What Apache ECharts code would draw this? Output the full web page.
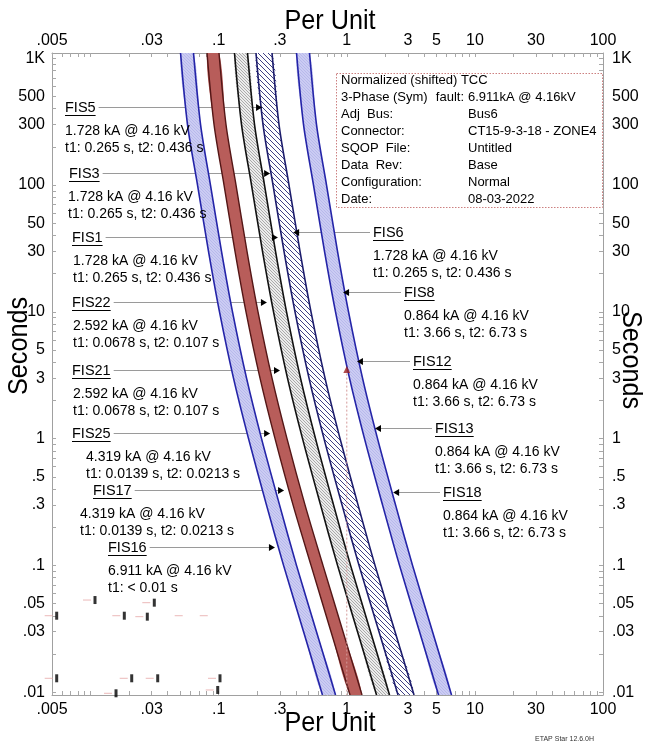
<!DOCTYPE html>
<html><head><meta charset="utf-8">
<script src="https://cdn.jsdelivr.net/npm/echarts@6/dist/echarts.min.js"></script>
<style>html,body{margin:0;padding:0;background:#fff}#c{width:646px;height:743px}</style>
</head><body><div id="c"></div>
<script>
// ---------------- DATA ----------------
const xTickLabels = [0.005, 0.03, 0.1, 0.3, 1, 3, 5, 10, 30, 100];
const yTickLabels = [1000, 500, 300, 100, 50, 30, 10, 5, 3, 1, 0.5, 0.3, 0.1, 0.05, 0.03, 0.01];

// curve sample times (s), and per-unit current of each band edge at those times
const curveTimes = [1100, 300, 100, 30, 10, 3, 1, 0.3, 0.1, 0.03, 0.0095];
const blueA_lo = [0.0504, 0.0571, 0.0684, 0.0833, 0.1015, 0.1305, 0.171, 0.236, 0.321, 0.460, 0.646];
const blueA_hi = [0.0636, 0.0722, 0.0863, 0.1052, 0.1282, 0.165, 0.216, 0.2985, 0.405, 0.580, 0.817];
const red_lo   = [0.0811, 0.0920, 0.1101, 0.1341, 0.1634, 0.2102, 0.2753, 0.3805, 0.526, 0.753, 1.06];
const red_hi   = [0.1006, 0.1141, 0.1366, 0.1664, 0.2028, 0.2609, 0.3415, 0.472, 0.652, 0.935, 1.315];
const grey_lo  = [0.1329, 0.1508, 0.1805, 0.2199, 0.2681, 0.3446, 0.4514, 0.624, 0.847, 1.213, 1.707];
const grey_hi  = [0.1679, 0.1905, 0.2279, 0.2778, 0.3385, 0.4352, 0.570, 0.788, 1.070, 1.532, 2.156];
const navy_lo  = [0.1956, 0.2219, 0.2656, 0.3236, 0.3944, 0.5072, 0.664, 0.918, 1.246, 1.785, 2.512];
const navy_hi  = [0.2609, 0.2958, 0.354, 0.4313, 0.5257, 0.6762, 0.886, 1.224, 1.661, 2.38, 3.349];
const blueB_lo = [0.4052, 0.4596, 0.5498, 0.6702, 0.8168, 1.05, 1.375, 1.901, 2.58, 3.697, 5.202];
const blueB_hi = [0.5118, 0.5803, 0.6948, 0.8466, 1.032, 1.327, 1.738, 2.402, 3.26, 4.67, 6.572];

// annotations
const annNames = ['FIS5','FIS3','FIS1','FIS22','FIS21','FIS25','FIS17','FIS16','FIS6','FIS8','FIS12','FIS13','FIS18'];
const annArrowPU  = [0.218, 0.252, 0.290, 0.238, 0.301, 0.252, 0.324, 0.275, 0.381, 0.935, 1.20, 1.66, 2.30];
const annArrowSec = [412, 124, 38.9, 11.95, 3.48, 1.107, 0.393, 0.140, 42.6, 14.3, 4.09, 1.21, 0.379];
const annLine1 = ['1.728 kA @ 4.16 kV','1.728 kA @ 4.16 kV','1.728 kA @ 4.16 kV','2.592 kA @ 4.16 kV','2.592 kA @ 4.16 kV',
  '4.319 kA @ 4.16 kV','4.319 kA @ 4.16 kV','6.911 kA @ 4.16 kV','1.728 kA @ 4.16 kV','0.864 kA @ 4.16 kV',
  '0.864 kA @ 4.16 kV','0.864 kA @ 4.16 kV','0.864 kA @ 4.16 kV'];
const annLine2 = ['t1: 0.265 s, t2: 0.436 s','t1: 0.265 s, t2: 0.436 s','t1: 0.265 s, t2: 0.436 s',
  't1: 0.0678 s, t2: 0.107 s','t1: 0.0678 s, t2: 0.107 s','t1: 0.0139 s, t2: 0.0213 s','t1: 0.0139 s, t2: 0.0213 s',
  't1: < 0.01 s','t1: 0.265 s, t2: 0.436 s','t1: 3.66 s, t2: 6.73 s','t1: 3.66 s, t2: 6.73 s',
  't1: 3.66 s, t2: 6.73 s','t1: 3.66 s, t2: 6.73 s'];

// fault marker
const faultPU = [1, 1];
const faultSec = [3.5, 0.0095];

// small instantaneous markers (lower left)
const markPU  = [0.00544, 0.01083, 0.01834, 0.02773, 0.03144, 0.00544, 0.02095, 0.03343, 0.1024, 0.0158, 0.0983];
const markSec = [0.0401, 0.0533, 0.0401, 0.0394, 0.0508, 0.01287, 0.01287, 0.01287, 0.01287, 0.0098, 0.01041];
const dashPU  = [0.0563, 0.0883];
const dashSec = [0.0401, 0.0401];

// info box
const infoKeys = ['Normalized (shifted) TCC', '3-Phase (Sym)', 'Adj  Bus:', 'Connector:', 'SQOP  File:', 'Data  Rev:', 'Configuration:', 'Date:'];
const infoVals = ['', '6.911kA @ 4.16kV', 'Bus6', 'CT15-9-3-18 - ZONE4', 'Untitled', 'Base', 'Normal', '08-03-2022'];

// ---------------- LAYOUT / STYLE ----------------
const FF = '"Liberation Sans", Arial, sans-serif';
const annSide    = ['L','L','L','L','L','L','L','L','R','R','R','R','R'];
const annNameX   = [65, 69, 72, 72, 72, 72, 93, 108, 373, 404, 413, 435, 443];
const annDetailX = [65, 68, 73, 73, 73, 86, 80, 108, 373, 404, 413, 435, 443];

function hatch(bg, fg, size, lw) {
  const c = document.createElement('canvas'); c.width = size; c.height = size;
  const g = c.getContext('2d');
  if (bg) { g.fillStyle = bg; g.fillRect(0, 0, size, size); }
  g.strokeStyle = fg; g.lineWidth = lw; g.beginPath();
  g.moveTo(-1, -1); g.lineTo(size + 1, size + 1);
  g.moveTo(size - 1, -1); g.lineTo(size + 1, 1);
  g.moveTo(-1, size - 1); g.lineTo(1, size + 1);
  g.stroke();
  return { image: c, repeat: 'repeat' };
}
const bandStyles = {
  blue: { fill: hatch('#cbccf3', '#b2b4e8', 3, 0.8), edge: '#2424a8', lw: 1.6 },
  red:  { fill: '#b85d5a', edge: '#541616', lw: 1.4 },
  grey: { fill: hatch('#ececec', '#9a9a9a', 3, 0.8), edge: '#111', lw: 1.6 },
  navy: { fill: hatch('#ffffff', '#2a2a78', 5, 0.9), edge: '#1c1c6c', lw: 1.6 }
};
const bandList = [
  { lo: blueA_lo, hi: blueA_hi, kind: 'blue' },
  { lo: red_lo, hi: red_hi, kind: 'red' },
  { lo: grey_lo, hi: grey_hi, kind: 'grey' },
  { lo: navy_lo, hi: navy_hi, kind: 'navy' },
  { lo: blueB_lo, hi: blueB_hi, kind: 'blue' }
];

const mctx = document.createElement('canvas').getContext('2d');
function textW(t, font) { mctx.font = font; return mctx.measureText(t).width; }
const NAME_FONT = '14.5px ' + FF;
const DET_FONT = '14px ' + FF;
const INFO_FONT = '13px ' + FF;

function minorTicks(lo, hi) {
  const out = [];
  for (let e = -3; e <= 3; e++) for (let m = 1; m <= 9; m++) {
    const v = +(m * Math.pow(10, e)).toPrecision(3);
    if (v >= lo * 0.9999 && v <= hi * 1.0001) out.push(v);
  }
  return out;
}
const xMinor = minorTicks(0.005, 100);
const yMinor = minorTicks(0.01, 1000);

function fmt(v) {
  v = +(+v).toPrecision(3);
  if (v >= 1000) return (v / 1000) + 'K';
  if (v < 1) return String(v).replace(/^0\./, '.');
  return String(v);
}

function renderBand(params, api) {
  const b = bandList[params.dataIndex];
  const st = bandStyles[b.kind];
  const lo = b.lo.map((x, i) => api.coord([x, curveTimes[i]]));
  const hi = b.hi.map((x, i) => api.coord([x, curveTimes[i]]));
  const poly = lo.concat(hi.slice().reverse());
  return { type: 'group', children: [
    { type: 'polygon', shape: { points: poly, smooth: 0.3 }, style: { fill: st.fill, stroke: null } },
    { type: 'polyline', shape: { points: lo, smooth: 0.3 }, style: { stroke: st.edge, lineWidth: st.lw, fill: null } },
    { type: 'polyline', shape: { points: hi, smooth: 0.3 }, style: { stroke: st.edge, lineWidth: st.lw, fill: null } }
  ] };
}

function renderLeader(params, api) {
  const i = params.dataIndex;
  const tip = api.coord([annArrowPU[i], annArrowSec[i]]);
  const y = Math.round(tip[1]) + 0.5;
  let x1, x2;
  if (annSide[i] === 'L') { x1 = annNameX[i] + textW(annNames[i], NAME_FONT) + 3; x2 = tip[0] - 5; }
  else { x1 = tip[0] + 5; x2 = annNameX[i] - 3; }
  return { type: 'line', shape: { x1: x1, y1: y, x2: x2, y2: y }, style: { stroke: '#9a9a9a', lineWidth: 1 } };
}

function renderAnn(params, api) {
  const i = params.dataIndex;
  const tip = api.coord([annArrowPU[i], annArrowSec[i]]);
  const y = Math.round(tip[1]) + 0.5;
  const w = textW(annNames[i], NAME_FONT);
  const tri = annSide[i] === 'L'
    ? [[tip[0] - 6, y - 3.5], [tip[0], y], [tip[0] - 6, y + 3.5]]
    : [[tip[0] + 6, y - 3.5], [tip[0], y], [tip[0] + 6, y + 3.5]];
  const ch = [
    { type: 'polygon', shape: { points: tri }, style: { fill: '#000' } },
    { type: 'text', x: annNameX[i], y: y, style: { text: annNames[i], font: NAME_FONT, fill: '#000', align: 'left', verticalAlign: 'middle' } },
    { type: 'line', shape: { x1: annNameX[i], y1: y + 8, x2: annNameX[i] + w, y2: y + 8 }, style: { stroke: '#000', lineWidth: 1 } },
    { type: 'text', x: annDetailX[i], y: y + 24, style: { text: annLine1[i], font: DET_FONT, fill: '#000', align: 'left', verticalAlign: 'middle' } },
    { type: 'text', x: annDetailX[i], y: y + 41, style: { text: annLine2[i], font: DET_FONT, fill: '#000', align: 'left', verticalAlign: 'middle' } }
  ];
  return { type: 'group', children: ch };
}

const gridL = 52, gridR = 603, gridT = 53, gridB = 695;

function axisCommon(isX, pos) {
  const vals = isX ? xTickLabels : yTickLabels;
  return {
    type: 'log', logBase: 10,
    min: isX ? 0.005 : 0.0095, max: isX ? 100 : 1100,
    position: pos,
    axisLine: { show: true, lineStyle: { color: '#a0a0a0', width: 1 } },
    axisTick: { show: true, inside: true, length: 4, customValues: isX ? xMinor : yMinor, lineStyle: { color: '#a8a8a8' } },
    minorTick: { show: false },
    splitLine: { show: false },
    axisLabel: { customValues: vals, formatter: fmt, color: '#000', fontSize: 16, fontFamily: FF,
      margin: isX ? (pos === 'top' ? 4 : 7) : (pos === 'left' ? 7 : 9) }
  };
}

const graphics = [
  { type: 'text', x: 330, y: 21, scaleX: 0.9, style: { text: 'Per Unit', font: '28px ' + FF, fill: '#000', align: 'center', verticalAlign: 'middle' } },
  { type: 'text', x: 330, y: 723, scaleX: 0.9, style: { text: 'Per Unit', font: '28px ' + FF, fill: '#000', align: 'center', verticalAlign: 'middle' } },
  { type: 'text', x: 19, y: 346, rotation: Math.PI / 2, scaleX: 0.9, style: { text: 'Seconds', font: '28px ' + FF, fill: '#000', align: 'center', verticalAlign: 'middle' } },
  { type: 'text', x: 631, y: 360, rotation: -Math.PI / 2, scaleX: 0.9, style: { text: 'Seconds', font: '28px ' + FF, fill: '#000', align: 'center', verticalAlign: 'middle' } },
  { type: 'text', x: 535, y: 739, style: { text: 'ETAP Star 12.6.0H', font: '7px ' + FF, fill: '#333', align: 'left', verticalAlign: 'middle' } },
  { type: 'rect', shape: { x: 336.5, y: 73.5, width: 266, height: 134 }, style: { fill: '#fff', stroke: '#cc8080', lineWidth: 1, lineDash: [1.5, 1.5] }, z: 10 }
];
infoKeys.forEach((k, i) => {
  graphics.push({ type: 'text', x: 341, y: 80 + 17 * i, z: 11, style: { text: k, font: INFO_FONT, fill: '#000', align: 'left', verticalAlign: 'middle' } });
  if (infoVals[i]) graphics.push({ type: 'text', x: 468, y: 80 + 17 * i, z: 11, style: { text: infoVals[i], font: INFO_FONT, fill: '#000', align: 'left', verticalAlign: 'middle' } });
});
graphics.push({ type: 'text', x: 464, y: 97, z: 11, style: { text: 'fault:', font: INFO_FONT, fill: '#000', align: 'right', verticalAlign: 'middle' } });

const chart = echarts.init(document.getElementById('c'), null, { renderer: 'canvas' });
chart.setOption({
  animation: false,
  backgroundColor: '#fff',
  grid: { left: gridL, right: 646 - gridR, top: gridT, bottom: 743 - gridB, containLabel: false },
  xAxis: [axisCommon(true, 'bottom'), axisCommon(true, 'top')],
  yAxis: [axisCommon(false, 'left'), axisCommon(false, 'right')],
  graphic: graphics,
  series: [
    { type: 'custom', name: 'leaders', renderItem: renderLeader, data: annNames.map((n, i) => [1, 1, i]), z: 2, silent: true },
    { type: 'custom', name: 'bands', renderItem: renderBand, data: bandList.map((b, i) => [1, 1, i]), clip: true, z: 3, silent: true },
    { type: 'line', name: 'fault', data: faultPU.map((x, i) => [x, faultSec[i]]), symbol: 'none',
      lineStyle: { color: '#d49a9a', width: 1, type: [2, 2] }, z: 4, silent: true },
    { type: 'scatter', name: 'faultMark', data: [[faultPU[0], faultSec[0]]], symbol: 'triangle', symbolSize: 7,
      itemStyle: { color: '#9c2020' }, z: 6, silent: true },
    { type: 'scatter', name: 'markDash', data: markPU.map((x, i) => [x, markSec[i]]).concat(dashPU.map((x, i) => [x, dashSec[i]])),
      symbol: 'rect', symbolSize: [8, 1], symbolOffset: [-8, 0], itemStyle: { color: '#e6a6a6' }, z: 4, silent: true },
    { type: 'scatter', name: 'marks', data: markPU.map((x, i) => [x, markSec[i]]), symbol: 'rect', symbolSize: [3, 8],
      itemStyle: { color: '#000' }, z: 5, silent: true },
    { type: 'custom', name: 'annotations', renderItem: renderAnn, data: annNames.map((n, i) => [1, 1, i]), z: 7, silent: true }
  ]
});
</script></body></html>
